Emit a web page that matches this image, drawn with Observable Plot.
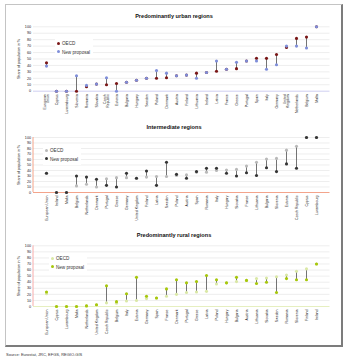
<!DOCTYPE html>
<html><head><meta charset="utf-8">
<script src="https://cdn.jsdelivr.net/npm/d3@7"></script>
<script src="https://cdn.jsdelivr.net/npm/@observablehq/plot@0.6"></script>
<style>
body{margin:0;background:#fff;font-family:"Liberation Sans",Arial,sans-serif;}
#root{position:relative;width:350px;height:362px;overflow:hidden;background:#fff;}
.frame{position:absolute;left:5px;top:4px;width:335px;height:340px;border-left:1px solid #c4c4c4;border-top:1px solid #c4c4c4;border-right:2px solid #7c7c7c;border-bottom:2px solid #7c7c7c;}
.title{position:absolute;left:5px;width:338px;text-align:center;font-weight:bold;font-size:5.6px;line-height:6px;color:#111;}
.plot{position:absolute;left:0;}
.legend{position:absolute;background:#fff;font-size:4.6px;line-height:8.5px;color:#333;padding:1px 3px 1px 2px;}
.legend .m{display:inline-block;width:3px;height:3px;border-radius:50%;margin-right:2px;vertical-align:middle;position:relative;top:-0.5px;}
.src{position:absolute;left:6px;top:352px;font-size:4px;color:#333;}
</style></head>
<body><div id="root"><div class="frame"></div></div>
<script>
// ---------- data ----------
const yTicks = [0,10,20,30,40,50,60,70,80,90,100];

const urbanNames = ["European Union","Cyprus","Luxembourg","Slovenia","Romania","Slovakia","Czech Republic","Estonia","Bulgaria","Hungary","Sweden","Poland","Denmark","Austria","Finland","Lithuania","Ireland","Latvia","France","Greece","Portugal","Spain","Italy","Germany","United Kingdom","Netherlands","Belgium","Malta"];
const urbanOECD = [44,0,0,0,7,11,10,12,14,17,20,20,21,24,25,28,29,31,34,35,47,51,51,57,68,82,84,100];
const urbanNew  = [39,0,0,24,9,11,21,0,14,17,20,32,28,24,25,20,29,47,34,45,47,47,34,41,70,70,67,100];

const interNames = ["European Union","Ireland","Malta","Belgium","Netherlands","Denmark","Portugal","Greece","Germany","United Kingdom","Finland","Latvia","Sweden","Poland","Austria","Spain","Romania","Italy","Hungary","Slovakia","France","Lithuania","Bulgaria","Slovenia","Estonia","Czech Republic","Cyprus","Luxembourg"];
const interOECD = [35,0,0,12,15,10,25,27,27,26,28,29,29,31,32,37,37,40,41,42,48,55,61,62,77,84,100,100];
const interNew  = [35,0,0,30,28,24,13,10,35,26,39,13,55,33,26,38,44,44,35,30,36,31,45,38,52,44,100,100];

const ruralNames = ["European Union","Cyprus","Luxembourg","Malta","Netherlands","United Kingdom","Czech Republic","Belgium","Italy","Estonia","Germany","Spain","France","Denmark","Portugal","Greece","Latvia","Poland","Hungary","Bulgaria","Austria","Lithuania","Slovakia","Sweden","Romania","Slovenia","Finland","Ireland"];
const ruralOECD = [21,0,0,0,1,3,6,5.5,9,10,13,14,17,20,23,24,25,37,39,41,43,46,47,49,52,58,62,70];
const ruralNew  = [24,0,0,0,1,3,34,8,21,48,17,14,29,44,39,41,51,44,39,48,43,38,40,23,46,44,44,70];

const titles = ["Predominantly urban regions","Intermediate regions","Predominantly rural regions"];
const legendLabels = ["OECD","New proposal"];
const sourceText = "Source: Eurostat, JRC, EFGS, REGIO-GIS";

// ---------- drawing ----------
const root = document.getElementById("root");
const font = "Liberation Sans, Arial, sans-serif";

function panel(cfg){
  const data = cfg.names.map((n,i)=>({name:n, oecd:cfg.oecd[i], np:cfg.np[i]}));
  const p = Plot.plot({
    width: 340, height: cfg.height,
    marginLeft: 33, marginRight: 10.5, marginTop: cfg.mt, marginBottom: cfg.mb,
    style: {fontFamily: font, fontSize: "3.7px", background: "transparent", color: "#222", overflow: "visible"},
    x: {type: "point", domain: cfg.names, padding: 0.5},
    y: {domain: [0,100]},
    marks: [
      Plot.gridY(yTicks.filter(t=>t>0), {stroke: "#e3e3e3", strokeOpacity: 1, strokeWidth: 0.6}),
      Plot.ruleY([0], {stroke: cfg.base, strokeWidth: 0.9}),
      Plot.axisY(yTicks, {tickSize: 0, tickPadding: 2.5, label: "Share of population in %", labelAnchor: "center", labelOffset: 16, labelArrow: "none", fontSize: 3.7}),
      Plot.axisX({tickSize: 0, tickPadding: 3, tickRotate: -90, label: null, tickFormat: cfg.fmt || (d=>d), fontSize: 3.5}),
      Plot.ruleX(data, {x: "name", y1: "oecd", y2: "np", stroke: "#505050", strokeWidth: 0.8}),
      Plot.dot(data, {x: "name", y: "oecd", r: 1.55, fill: cfg.oecdColor}),
      Plot.dot(data, {x: "name", y: "np", r: 1.55, fill: cfg.npColor})
    ]
  });
  p.classList.add("plot");
  p.style.top = cfg.top + "px";
  p.style.position = "absolute";
  if (cfg.left) {
    const xr = p.scale("x").range, yr = p.scale("y").range;
    d3.select(p).append("line")
      .attr("x1", xr[0]).attr("x2", xr[0]).attr("y1", yr[0]).attr("y2", yr[1])
      .attr("stroke", cfg.left).attr("stroke-width", 0.9);
  }
  root.appendChild(p);

  const t = document.createElement("div");
  t.className = "title"; t.textContent = cfg.title; t.style.top = cfg.titleTop + "px";
  root.appendChild(t);

  const lg = document.createElement("div");
  lg.className = "legend";
  lg.style.left = cfg.lx + "px"; lg.style.top = cfg.ly + "px";
  lg.innerHTML = `<div><span class="m" style="background:${cfg.oecdColor}"></span>${legendLabels[0]}</div>` +
                 `<div><span class="m" style="background:${cfg.npColor}"></span>${legendLabels[1]}</div>`;
  root.appendChild(lg);
}

const twoLine = d => ({"European Union":"European\nUnion","Czech Republic":"Czech\nRepublic","United Kingdom":"United\nKingdom"}[d] || d);

panel({names: urbanNames, oecd: urbanOECD, np: urbanNew, top: 20, height: 100, mt: 6.3, mb: 29.3,
  oecdColor: "#7a1717", npColor: "#7f8ed9", base: "#cbcbef", left: null, fmt: twoLine,
  title: titles[0], titleTop: 13, lx: 55, ly: 39});
panel({names: interNames, oecd: interOECD, np: interNew, top: 131, height: 100, mt: 6, mb: 39,
  oecdColor: "#b9b9b9", npColor: "#353535", base: "#f29a7e", left: "#f29a7e",
  title: titles[1], titleTop: 124, lx: 43, ly: 146});
panel({names: ruralNames, oecd: ruralOECD, np: ruralNew, top: 239, height: 102, mt: 6.3, mb: 35,
  oecdColor: "#dae8a6", npColor: "#a7c70c", base: "#e3edb9", left: "#f5a3a3",
  title: titles[2], titleTop: 232, lx: 49, ly: 254});

const s = document.createElement("div");
s.className = "src"; s.textContent = sourceText;
root.appendChild(s);
</script></body></html>
